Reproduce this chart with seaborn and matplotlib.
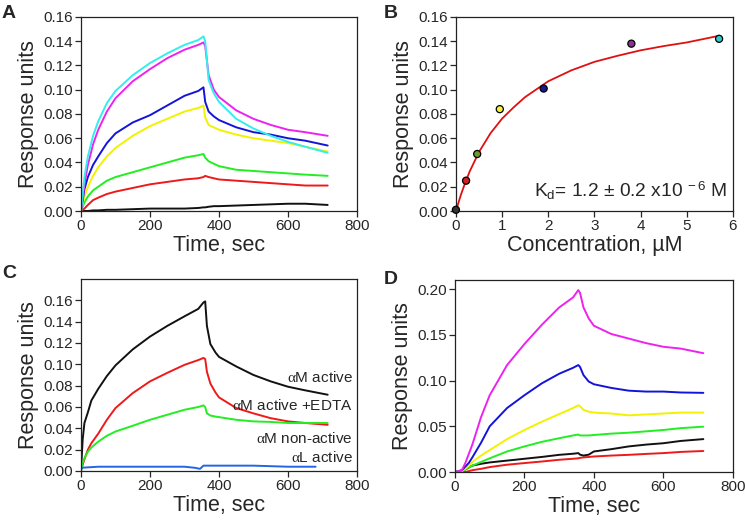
import pandas as pd
import matplotlib
matplotlib.use("Agg")
import matplotlib.pyplot as plt
import seaborn as sns

# ---- panel A: sensorgrams at increasing concentration ----
time_a = [0, 10, 20, 35, 50, 75, 100, 150, 200, 250, 300, 340, 355, 360,
          370, 385, 400, 450, 500, 550, 600, 650, 715]
a_cyan = [0, 0.028, 0.045, 0.062, 0.074, 0.089, 0.099, 0.112, 0.122, 0.130, 0.137, 0.141, 0.144, 0.140,
          0.108, 0.097, 0.090, 0.076, 0.068, 0.062, 0.057, 0.053, 0.048]
a_magenta = [0, 0.022, 0.038, 0.055, 0.067, 0.082, 0.093, 0.107, 0.117, 0.126, 0.133, 0.137, 0.139, 0.136,
             0.112, 0.100, 0.094, 0.083, 0.076, 0.071, 0.067, 0.065, 0.062]
a_blue = [0, 0.018, 0.028, 0.038, 0.045, 0.056, 0.064, 0.073, 0.079, 0.087, 0.095, 0.099, 0.102, 0.090,
          0.082, 0.078, 0.075, 0.069, 0.065, 0.063, 0.060, 0.058, 0.054]
a_yellow = [0, 0.012, 0.020, 0.029, 0.036, 0.045, 0.052, 0.062, 0.070, 0.076, 0.082, 0.085, 0.087, 0.077,
            0.071, 0.069, 0.067, 0.063, 0.060, 0.058, 0.056, 0.053, 0.049]
a_green = [0, 0.007, 0.012, 0.017, 0.020, 0.025, 0.028, 0.032, 0.036, 0.040, 0.044, 0.046, 0.047, 0.044,
           0.041, 0.039, 0.037, 0.034, 0.033, 0.032, 0.031, 0.030, 0.029]
a_red = [0, 0.002, 0.005, 0.009, 0.011, 0.014, 0.016, 0.019, 0.022, 0.024, 0.026, 0.027, 0.028, 0.029,
         0.028, 0.027, 0.026, 0.025, 0.024, 0.023, 0.022, 0.021, 0.021]
a_black = [0, 0, 0, 0.0005, 0.0005, 0.001, 0.001, 0.0015, 0.002, 0.002, 0.002, 0.0025, 0.003, 0.003,
           0.0035, 0.004, 0.004, 0.0045, 0.005, 0.0055, 0.006, 0.006, 0.005]

# ---- panel B: equilibrium response vs concentration ----
conc_b = [0.0, 0.22, 0.46, 0.95, 1.9, 3.8, 5.7]
ru_b = [0.001, 0.025, 0.047, 0.084, 0.101, 0.138, 0.142]
point_colors_b = ["#333333", "#cc2222", "#6b9a2a", "#f4f43a", "#1a1a8c", "#8e2f96", "#33c8c8"]
fit_x = [0, 0.1, 0.2, 0.3, 0.5, 0.75, 1.0, 1.25, 1.5, 2.0, 2.5, 3.0, 3.5, 4.0, 4.5, 5.0, 5.7]
fit_y = [0, 0.0125, 0.0233, 0.0328, 0.0487, 0.0642, 0.0762, 0.0855, 0.094, 0.107, 0.116, 0.123,
         0.128, 0.1325, 0.136, 0.139, 0.1445]

# ---- panel C: integrin forms ----
time_c = [0, 5, 10, 20, 30, 50, 75, 100, 150, 200, 250, 300, 340, 355, 360,
          365, 375, 390, 400, 450, 500, 550, 600, 650, 715]
c_am_active = [0, 0.030, 0.045, 0.055, 0.066, 0.077, 0.089, 0.099, 0.114, 0.126, 0.136, 0.145, 0.152, 0.158, 0.159,
               0.136, 0.119, 0.111, 0.107, 0.098, 0.090, 0.084, 0.079, 0.0756, 0.0715]
c_am_edta = [0, 0.006, 0.011, 0.020, 0.026, 0.035, 0.048, 0.059, 0.073, 0.084, 0.092, 0.0995, 0.104, 0.106, 0.105,
             0.093, 0.082, 0.0735, 0.069, 0.059, 0.054, 0.0495, 0.0465, 0.045, 0.0433]
c_am_nonactive = [0, 0.008, 0.012, 0.018, 0.022, 0.0275, 0.033, 0.037, 0.0424, 0.048, 0.0527, 0.0574, 0.060, 0.0615, 0.060,
                  0.054, 0.052, 0.051, 0.0505, 0.048, 0.0465, 0.046, 0.045, 0.045, 0.045]
time_c_al = [0, 50, 100, 200, 300, 330, 345, 355, 400, 500, 600, 680]
c_al_active = [0.003, 0.004, 0.004, 0.004, 0.004, 0.003, 0.002, 0.005, 0.005, 0.005, 0.004, 0.004]
labels_c = [r"$\alpha$M active", r"$\alpha$M active +EDTA", r"$\alpha$M non-active", r"$\alpha$L active"]
label_y_c = [0.0872, 0.061, 0.030, 0.0122]

# ---- panel D ----
time_d = [0, 20, 30, 40, 50, 75, 100, 150, 200, 250, 300, 340, 355, 360,
          370, 385, 400, 450, 500, 550, 600, 650, 715]
d_magenta = [0, 0.002, 0.010, 0.020, 0.030, 0.060, 0.084, 0.117, 0.140, 0.161, 0.180, 0.191, 0.199, 0.196,
             0.180, 0.168, 0.160, 0.151, 0.146, 0.141, 0.137, 0.135, 0.130]
d_blue = [0, 0.002, 0.006, 0.010, 0.016, 0.032, 0.050, 0.070, 0.084, 0.097, 0.1075, 0.114, 0.117, 0.115,
          0.106, 0.099, 0.096, 0.092, 0.089, 0.088, 0.088, 0.087, 0.0866]
d_yellow = [0, 0.001, 0.004, 0.007, 0.011, 0.018, 0.024, 0.036, 0.046, 0.055, 0.0634, 0.070, 0.073, 0.072,
            0.068, 0.066, 0.065, 0.064, 0.062, 0.063, 0.064, 0.065, 0.065]
d_green = [0, 0.001, 0.003, 0.005, 0.007, 0.011, 0.015, 0.0225, 0.028, 0.033, 0.037, 0.040, 0.041, 0.040,
           0.040, 0.040, 0.0405, 0.042, 0.043, 0.0445, 0.046, 0.048, 0.0496]
d_black = [0, 0.001, 0.003, 0.005, 0.007, 0.009, 0.0105, 0.0125, 0.0145, 0.0165, 0.0188, 0.020, 0.0207, 0.019,
           0.018, 0.019, 0.0225, 0.025, 0.028, 0.030, 0.0315, 0.034, 0.036]
d_red = [0, 0, 0, 0.001, 0.002, 0.0035, 0.0054, 0.008, 0.0098, 0.0115, 0.0134, 0.0145, 0.015, 0.0155,
         0.016, 0.0165, 0.017, 0.018, 0.0188, 0.0198, 0.0207, 0.022, 0.023]

CYAN, MAGENTA, BLUE = "#33eeee", "#ee22ee", "#1414d8"
YELLOW, GREEN, RED, BLACK = "#f2f200", "#22ee22", "#ee1a1a", "#111111"


def long_frame(times, series):
    """series: list of (name, values) -> long dataframe for seaborn"""
    rows = []
    for name, vals in series:
        for t, v in zip(times, vals):
            rows.append({"time": t, "ru": v, "series": name})
    return pd.DataFrame(rows)


def style_axes(ax, xlabel, ylabel):
    ax.set_xlabel(xlabel, fontsize=15.5, labelpad=1)
    ax.set_ylabel(ylabel, fontsize=15.5, labelpad=3)
    ax.tick_params(labelsize=11, length=4, width=0.9, pad=2, direction="out")
    for sp in ax.spines.values():
        sp.set_visible(True)
        sp.set_linewidth(0.9)
        sp.set_color("#222222")


sns.set_theme(style="ticks")
plt.rcParams["font.family"] = ["Liberation Sans", "DejaVu Sans"]
plt.rcParams["mathtext.fontset"] = "custom"
plt.rcParams["mathtext.rm"] = "Liberation Sans"
plt.rcParams["mathtext.it"] = "Liberation Serif"

fig = plt.figure(figsize=(7.45, 5.21), dpi=100)
ax_a = fig.add_axes([0.1087, 0.595, 0.3705, 0.3724])
ax_b = fig.add_axes([0.612, 0.595, 0.3718, 0.3724])
ax_c = fig.add_axes([0.1087, 0.096, 0.3705, 0.3685])
ax_d = fig.add_axes([0.6107, 0.094, 0.373, 0.3685])

# A
df_a = long_frame(time_a, [("black", a_black), ("red", a_red), ("green", a_green), ("yellow", a_yellow),
                           ("blue", a_blue), ("magenta", a_magenta), ("cyan", a_cyan)])
pal_a = {"black": BLACK, "red": RED, "green": GREEN, "yellow": YELLOW,
         "blue": BLUE, "magenta": MAGENTA, "cyan": CYAN}
sns.lineplot(data=df_a, x="time", y="ru", hue="series", palette=pal_a, estimator=None,
             sort=False, legend=False, linewidth=1.4, ax=ax_a)
ax_a.set_xlim(0, 800)
ax_a.set_ylim(0, 0.16)
ax_a.set_xticks([0, 200, 400, 600, 800])
ax_a.set_yticks([0, 0.02, 0.04, 0.06, 0.08, 0.10, 0.12, 0.14, 0.16])
ax_a.yaxis.set_major_formatter(matplotlib.ticker.FormatStrFormatter("%.2f"))
style_axes(ax_a, "Time, sec", "Response units")

# B
sns.lineplot(x=fit_x, y=fit_y, color="#e01010", linewidth=1.3, ax=ax_b)
sns.scatterplot(x=conc_b, y=ru_b, hue=list(range(len(conc_b))), palette=point_colors_b,
                s=26, edgecolor="black", linewidth=0.9, legend=False, zorder=3, clip_on=False, ax=ax_b)
ax_b.set_xlim(0, 6)
ax_b.set_ylim(0, 0.16)
ax_b.set_xticks(range(7))
ax_b.set_yticks([0, 0.02, 0.04, 0.06, 0.08, 0.10, 0.12, 0.14, 0.16])
ax_b.yaxis.set_major_formatter(matplotlib.ticker.FormatStrFormatter("%.2f"))
ax_b.text(5.88, 0.011, r"K$_{\rm d}$= 1.2 ± 0.2 x10$^{\rm\ -6}$ M", ha="right", va="baseline",
          fontsize=13.8)
style_axes(ax_b, "Concentration, \u00b5M", "Response units")

# C
df_c = long_frame(time_c, [("active", c_am_active), ("edta", c_am_edta), ("non", c_am_nonactive)])
df_c = pd.concat([df_c, long_frame(time_c_al, [("al", c_al_active)])], ignore_index=True)
pal_c = {"active": BLACK, "edta": RED, "non": GREEN, "al": "#2266e6"}
sns.lineplot(data=df_c, x="time", y="ru", hue="series", palette=pal_c, estimator=None,
             sort=False, legend=False, linewidth=1.4, ax=ax_c)
for lab, ly in zip(labels_c, label_y_c):
    ax_c.text(788, ly, lab, ha="right", va="center", fontsize=11)
ax_c.set_xlim(0, 800)
ax_c.set_ylim(0, 0.18)
ax_c.set_xticks([0, 200, 400, 600, 800])
ax_c.set_yticks([0, 0.02, 0.04, 0.06, 0.08, 0.10, 0.12, 0.14, 0.16])
ax_c.yaxis.set_major_formatter(matplotlib.ticker.FormatStrFormatter("%.2f"))
style_axes(ax_c, "Time, sec", "Response units")

# D
df_d = long_frame(time_d, [("red", d_red), ("black", d_black), ("green", d_green), ("yellow", d_yellow),
                           ("blue", d_blue), ("magenta", d_magenta)])
sns.lineplot(data=df_d, x="time", y="ru", hue="series", palette=pal_a, estimator=None,
             sort=False, legend=False, linewidth=1.4, ax=ax_d)
ax_d.set_xlim(0, 800)
ax_d.set_ylim(0, 0.21)
ax_d.set_xticks([0, 200, 400, 600, 800])
ax_d.set_yticks([0, 0.05, 0.10, 0.15, 0.20])
ax_d.yaxis.set_major_formatter(matplotlib.ticker.FormatStrFormatter("%.2f"))
style_axes(ax_d, "Time, sec", "Response units")

# panel letters
for letter, (px, py) in zip("ABCD", [(9, 13), (391, 13), (9, 274), (391, 279)]):
    fig.text(px / 745, 1 - py / 521, letter, fontsize=14, fontweight="bold", ha="center", va="center")

fig.savefig("out.png", dpi=100)
